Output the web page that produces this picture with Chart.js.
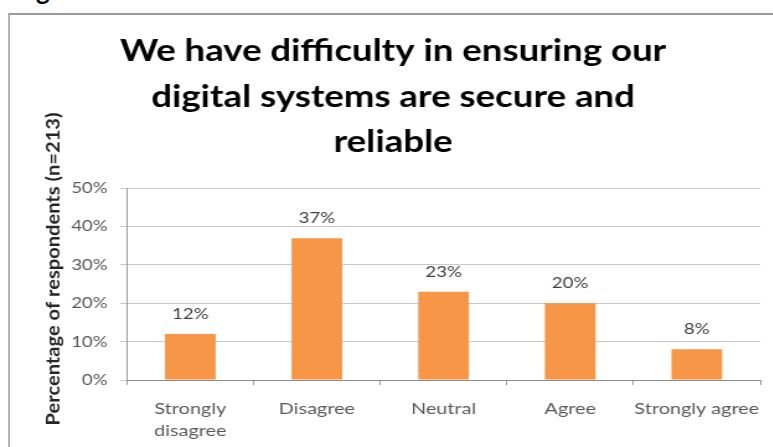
<!DOCTYPE html>
<html>
<head>
<meta charset="utf-8">
<script src="https://cdn.jsdelivr.net/npm/chart.js@4.4.1/dist/chart.umd.min.js"></script>
<style>
    html, body { margin: 0; padding: 0; background: #fff; overflow: hidden; }
    #wrap { position: relative; width: 773px; height: 447px; }
    #frame {
        position: absolute; left: 8px; top: 13px; width: 800px; height: 500px;
        border-left: 2px solid #b4b4b4; border-top: 2px solid #9a9a9a;
    }
    #caption {
        position: absolute; left: 36px; top: -26px;
        font: bold 26px Lato, sans-serif; color: #000;
    }
    /* the chart is laid out narrow and widened, which gives the wide lettering */
    canvas { position: absolute; left: 0; top: 0; transform: scaleX(1.24); transform-origin: 0 0; }
</style>
</head>
<body>
<div id="wrap">
    <div id="caption">g</div>
    <div id="frame"></div>
    <canvas id="chartCanvas" width="623" height="447"></canvas>
</div>
<script>
// survey answers, percent of respondents
const categories = [['Strongly', 'disagree'], 'Disagree', 'Neutral', 'Agree', 'Strongly agree'];
const percentages = [12, 37, 23, 20, 8];
const yTicks = [0, 10, 20, 30, 40, 50];
const titleLines = ['We have difficulty in ensuring our', 'digital systems are secure and', 'reliable'];
const yTitle = 'Percentage of respondents (n=213)';

const fontFamily = 'Lato, "Open Sans", sans-serif';

// value labels above each bar
const barLabels = {
    id: 'barLabels',
    afterDatasetsDraw(chart) {
        const ctx = chart.ctx;
        const meta = chart.getDatasetMeta(0);
        ctx.save();
        ctx.font = '15px ' + fontFamily;
        ctx.fillStyle = '#404040';
        ctx.textAlign = 'center';
        ctx.textBaseline = 'middle';
        meta.data.forEach((bar, i) => {
            ctx.fillText(percentages[i] + '%', bar.x, bar.y - 20);
        });
        ctx.restore();
    }
};

// rotated axis title on the left
const sideTitle = {
    id: 'sideTitle',
    afterDraw(chart) {
        const ctx = chart.ctx;
        ctx.save();
        ctx.translate(43.5, 269);
        ctx.rotate(-Math.PI / 2);
        ctx.scale(1.34, 1);
        ctx.font = 'bold 15px ' + fontFamily;
        ctx.fillStyle = '#262626';
        ctx.textAlign = 'center';
        ctx.textBaseline = 'middle';
        ctx.fillText(yTitle, 0, 0);
        ctx.restore();
    }
};

const ctx = document.getElementById('chartCanvas').getContext('2d');
new Chart(ctx, {
    type: 'bar',
    data: {
        labels: categories,
        datasets: [{
            data: percentages,
            backgroundColor: '#f79646',
            borderWidth: 0,
            categoryPercentage: 0.8,
            barPercentage: 0.5
        }]
    },
    options: {
        responsive: false,
        animation: false,
        layout: { padding: { left: 21, right: 10, top: 0, bottom: 0 } },
        plugins: {
            legend: { display: false },
            tooltip: { enabled: false },
            title: {
                display: true,
                text: titleLines,
                color: '#000',
                font: { family: fontFamily, size: 29.5, weight: 'bold', lineHeight: 1.54 },
                padding: { top: 29, bottom: 23 }
            }
        },
        scales: {
            x: {
                grid: {
                    drawOnChartArea: false,
                    drawTicks: true,
                    tickLength: 5,
                    offset: true,
                    color: '#9a9a9a'
                },
                border: { color: '#8c8c8c', width: 1 },
                ticks: {
                    color: '#595959',
                    padding: 13,
                    maxRotation: 0,
                    autoSkip: false,
                    font: { family: fontFamily, size: 16, lineHeight: 1.375 }
                },
                afterFit(scale) {
                    scale.height = 67;
                    scale.paddingLeft = 0;
                    scale.paddingRight = 0;
                }
            },
            y: {
                min: 0,
                max: 50,
                afterBuildTicks(scale) {
                    scale.ticks = yTicks.map(v => ({ value: v }));
                },
                grid: {
                    color: '#c8c8c8',
                    tickLength: 5.6,
                    lineWidth: 1
                },
                border: { color: '#9a9a9a', width: 1 },
                ticks: {
                    color: '#595959',
                    padding: 10,
                    font: { family: fontFamily, size: 15 },
                    callback: v => v + '%'
                },
                afterFit(scale) { scale.width = 81.4; }
            }
        }
    },
    plugins: [barLabels, sideTitle]
});
</script>
</body>
</html>
